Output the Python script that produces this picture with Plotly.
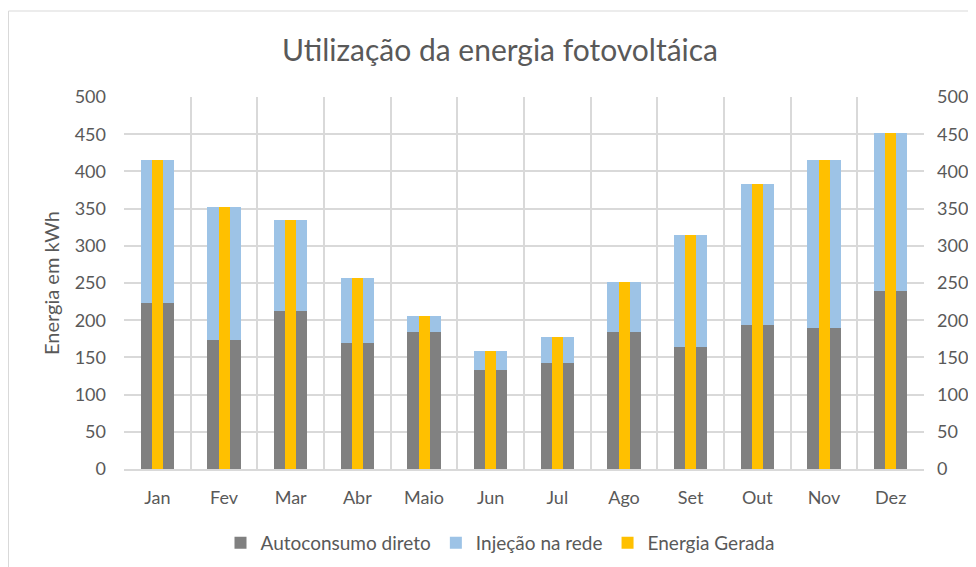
import plotly.graph_objects as go

months = ["Jan", "Fev", "Mar", "Abr", "Maio", "Jun", "Jul", "Ago", "Set", "Out", "Nov", "Dez"]
autoconsumo = [223, 174, 212, 169, 184, 133, 142, 184, 164, 193, 190, 239]
energia_gerada = [415, 352, 335, 257, 205, 158, 178, 252, 315, 383, 415, 452]
injecao = [g - a for g, a in zip(energia_gerada, autoconsumo)]

FONT = "Lato"
TXT = "#595959"
GRID = "#d9d9d9"

# the page body adds an 8px offset, so the figure is sized/placed to compensate
OFF = 8
W, H = 976 - OFF, 567 - OFF
L, T, PW, PH = 124 - OFF, 97 - OFF, 800, 372

fig = go.Figure()
fig.add_trace(go.Bar(x=months, y=autoconsumo, name="Autoconsumo direto",
                     marker=dict(color="#808080", line=dict(width=0)),
                     width=0.5, offset=-0.25, yaxis="y"))
fig.add_trace(go.Bar(x=months, y=injecao, name="Injeção na rede",
                     marker=dict(color="#9dc3e6", line=dict(width=0)),
                     width=0.5, offset=-0.25, yaxis="y"))
fig.add_trace(go.Bar(x=months, y=energia_gerada, name="Energia Gerada",
                     marker=dict(color="#ffc000", line=dict(width=0)),
                     width=0.165, offset=-0.0825, yaxis="y2"))

fig.update_layout(
    width=W, height=H,
    margin=dict(l=L, r=W - L - PW, t=T, b=H - T - PH, autoexpand=False),
    paper_bgcolor="white", plot_bgcolor="white",
    barmode="stack",
    font=dict(family=FONT, color=TXT, size=18),
    title=dict(text="Utilização da energia fotovoltáica", x=(500 - OFF) / W, xanchor="center",
               y=1 - (50 - OFF) / H, yanchor="middle", yref="container",
               font=dict(family=FONT, size=30, color=TXT)),
    xaxis=dict(type="category", tickson="boundaries", showgrid=True, gridcolor=GRID,
               gridwidth=1.5, ticks="", showline=True, linecolor=GRID, linewidth=1.5,
               automargin=False, ticklabelstandoff=12, tickfont=dict(size=18, color=TXT)),
    yaxis=dict(range=[0, 500], dtick=50, showgrid=True, gridcolor=GRID, gridwidth=1.5,
               zeroline=False, ticks="", showline=False, automargin=False,
               ticklabelstandoff=17,
               title=dict(text="Energia em kWh", font=dict(size=20, color=TXT), standoff=9),
               tickfont=dict(size=18, color=TXT)),
    yaxis2=dict(range=[0, 500], dtick=50, overlaying="y", side="right", showgrid=False,
                zeroline=False, ticks="", showline=False, automargin=False,
                ticklabelstandoff=12, tickfont=dict(size=18, color=TXT)),
    legend=dict(orientation="h", x=0.47, xanchor="center", y=(PH - (543 - 97)) / PH,
                yanchor="middle", font=dict(size=19, color=TXT), traceorder="normal"),
    showlegend=True,
)

fig.add_shape(type="rect", xref="paper", yref="paper", x0=(0.5 - L) / PW, x1=1.2,
              y0=-0.5, y1=(469 - 11) / PH, line=dict(color=GRID, width=1), layer="below")

fig.write_html("out.html")
